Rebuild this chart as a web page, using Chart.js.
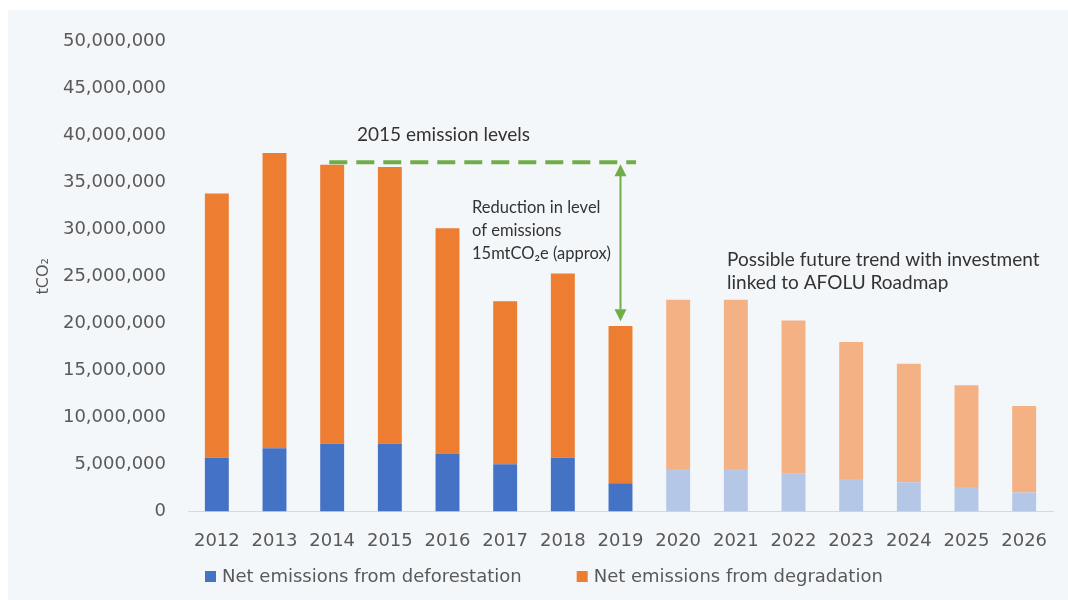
<!DOCTYPE html>
<html>
<head>
<meta charset="utf-8">
<script src="https://cdn.jsdelivr.net/npm/chart.js@4.4.1/dist/chart.umd.min.js"></script>
<style>
  html, body { margin: 0; padding: 0; background: #ffffff; }
  #wrap { width: 1068px; height: 600px; }
</style>
</head>
<body>
<div id="wrap"><canvas id="chart" width="1068" height="600"></canvas></div>
<script>
// Emissions by year (tCO2)
const years = ['2012','2013','2014','2015','2016','2017','2018','2019','2020','2021','2022','2023','2024','2025','2026'];
const deforestation = [5700000, 6700000, 7200000, 7200000, 6100000, 5000000, 5700000, 3000000, 4500000, 4500000, 4000000, 3450000, 3100000, 2600000, 2000000];
const degradation = [28100000, 31400000, 29650000, 29400000, 24000000, 17350000, 19600000, 16700000, 18000000, 18000000, 16300000, 14550000, 12600000, 10800000, 9200000];
const firstProjectedYear = '2020';
const level2015 = 37100000;
const reductionTarget = 20200000;
const yTicks = { min: 0, max: 50000000, step: 5000000 };

const seriesNames = ['Net emissions from deforestation', 'Net emissions from degradation'];
const colors = {
  defo: '#4472c4', defoLight: '#b4c7e7',
  degr: '#ed7d31', degrLight: '#f4b183',
  green: '#70ad47', text: '#595959', note: '#333333'
};

const projIdx = years.indexOf(firstProjectedYear);
const barColors = (base, light) => years.map((y, i) => i >= projIdx ? light : base);

const FONT = 'DejaVu Sans';

const panel = {
  id: 'panel',
  beforeDraw(chart) {
    const c = chart.ctx;
    c.save();
    c.fillStyle = '#ffffff';
    c.fillRect(0, 0, chart.width, chart.height);
    c.fillStyle = '#f4f7fa';
    c.fillRect(8, 10, chart.width - 8, chart.height - 10);
    c.restore();
  }
};

// Legend drawn by hand so the spacing between the two entries can be set freely
const legendRow = {
  id: 'legendRow',
  afterDraw(chart) {
    const c = chart.ctx;
    const area = chart.chartArea;
    c.save();
    c.font = '18px ' + FONT;
    c.textBaseline = 'middle';
    c.textAlign = 'left';
    let x = area.left + 17;
    const y = 577;
    const fills = [colors.defo, colors.degr];
    seriesNames.forEach((name, i) => {
      c.fillStyle = fills[i];
      c.fillRect(x, y - 6, 11, 11);
      x += 17;
      c.fillStyle = colors.text;
      c.fillText(name, x, y);
      x += c.measureText(name).width + 55;
    });
    c.restore();
  }
};

const notes = {
  id: 'notes',
  afterDatasetsDraw(chart) {
    const c = chart.ctx;
    const x = chart.scales.x, y = chart.scales.y;
    const step = x.getPixelForValue(1) - x.getPixelForValue(0);
    const yLevel = y.getPixelForValue(level2015);
    const xStart = x.getPixelForValue(2) - step * 0.05;
    const xArrow = x.getPixelForValue(7);
    const xEnd = xArrow + step * 0.27;

    c.save();
    // dashed reference line
    c.strokeStyle = colors.green;
    c.lineWidth = 4;
    c.setLineDash([18, 9]);
    c.beginPath();
    c.moveTo(xStart, yLevel);
    c.lineTo(xEnd, yLevel);
    c.stroke();
    c.setLineDash([]);

    // double-headed arrow
    const yLow = y.getPixelForValue(reductionTarget);
    const head = 12, hw = 6;
    c.lineWidth = 2;
    c.beginPath();
    c.moveTo(xArrow, yLevel + head);
    c.lineTo(xArrow, yLow - head);
    c.stroke();
    c.fillStyle = colors.green;
    c.beginPath();
    c.moveTo(xArrow, yLevel + 2);
    c.lineTo(xArrow - hw, yLevel + head + 2);
    c.lineTo(xArrow + hw, yLevel + head + 2);
    c.closePath();
    c.fill();
    c.beginPath();
    c.moveTo(xArrow, yLow);
    c.lineTo(xArrow - hw, yLow - head);
    c.lineTo(xArrow + hw, yLow - head);
    c.closePath();
    c.fill();

    // text notes
    c.fillStyle = colors.note;
    c.textBaseline = 'middle';
    c.textAlign = 'left';
    c.font = '19px Lato';
    c.fillText('2015 emission levels', 357, 135);
    c.font = '16.5px Lato';
    c.fillText('Reduction in level', 472, 208);
    c.fillText('of emissions', 472, 231);
    c.fillText('15mtCO₂e (approx)', 472, 254);
    c.font = '19px Lato';
    c.fillText('Possible future trend with investment', 727, 260);
    c.fillText('linked to AFOLU Roadmap', 727, 283);
    c.restore();
  }
};

new Chart(document.getElementById('chart'), {
  type: 'bar',
  data: {
    labels: years,
    datasets: [
      { label: seriesNames[0], data: deforestation, backgroundColor: barColors(colors.defo, colors.defoLight) },
      { label: seriesNames[1], data: degradation, backgroundColor: barColors(colors.degr, colors.degrLight) }
    ]
  },
  options: {
    responsive: false,
    animation: false,
    devicePixelRatio: 1,
    barPercentage: 0.83,
    categoryPercentage: 0.5,
    layout: { padding: { left: 8, top: 41, right: 15, bottom: 37 } },
    plugins: {
      legend: { display: false },
      tooltip: { enabled: false }
    },
    scales: {
      x: {
        stacked: true,
        grid: { display: false },
        border: { display: true, color: '#d9d9d9', width: 1 },
        ticks: { font: { family: FONT, size: 18 }, color: colors.text, padding: 11 }
      },
      y: {
        stacked: true,
        min: yTicks.min,
        max: yTicks.max,
        grid: { display: false },
        border: { display: false },
        afterFit(scale) { scale.width = 180; },
        ticks: {
          stepSize: yTicks.step,
          font: { family: FONT, size: 18 },
          color: colors.text,
          padding: 14,
          callback: v => v.toLocaleString('en-US')
        },
        title: {
          display: true,
          text: 'tCO₂',
          font: { family: FONT, size: 16 },
          color: colors.text,
          padding: { top: 26, bottom: 0 }
        }
      }
    }
  },
  plugins: [panel, legendRow, notes]
});
</script>
</body>
</html>
